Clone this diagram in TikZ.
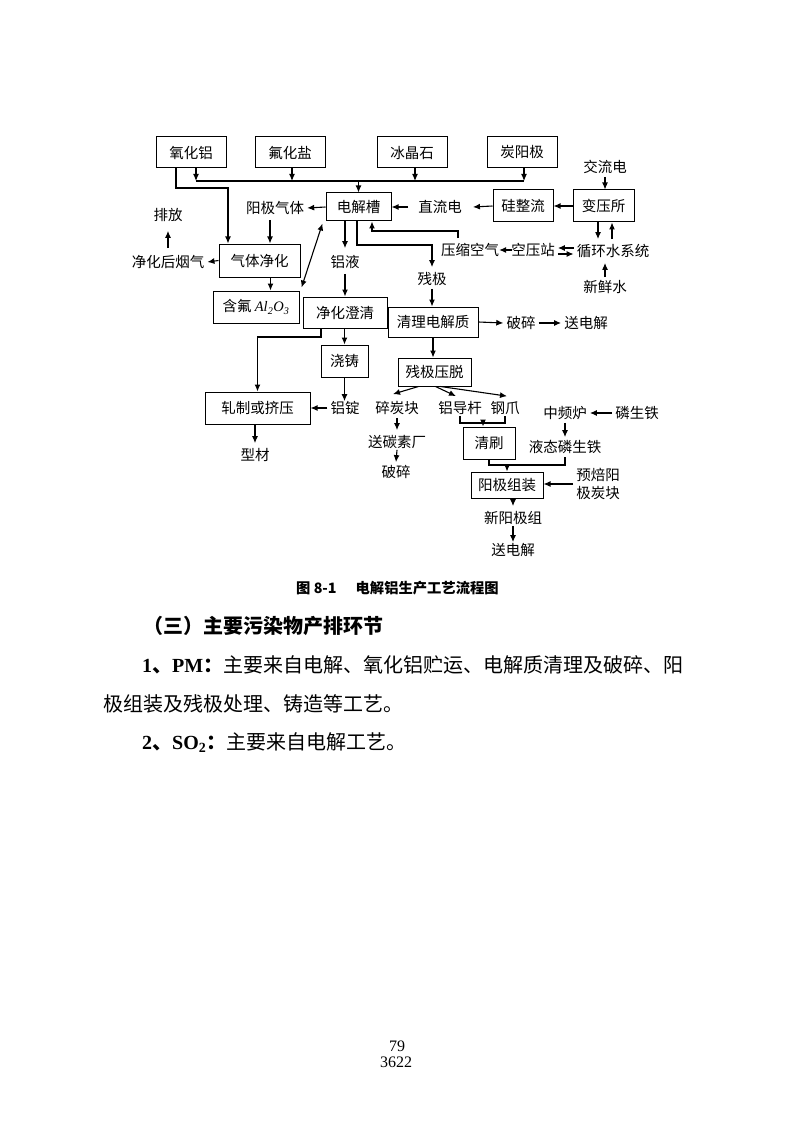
\documentclass[tikz,border=0pt]{standalone}
\usepackage{fontspec}
\setmainfont{Liberation Serif}
\newfontfamily\cjk{Noto Sans CJK SC}
\usetikzlibrary{positioning,calc,arrows.meta}
\newcommand{\dgfont}{\cjk\fontsize{14.5}{18}\selectfont}
\newcommand{\txfont}{\fontsize{20}{24}\selectfont}

\begin{document}
\begin{tikzpicture}[x=1pt,y=-1pt,>={Latex[length=7pt,width=6pt]},
    box/.style={draw,line width=1pt,inner sep=0pt,font=\dgfont},
    lab/.style={inner xsep=3pt,inner ysep=5pt,font=\dgfont},
    arr/.style={->,line width=1.1pt},
    ln/.style={line width=1.1pt}]
    \path[use as bounding box,fill=white] (0,0) rectangle (794,1123);

    \node[box,minimum width=70,minimum height=31] (yhl) at (191,152.5) {氧化铝};
    \node[box,minimum width=70,minimum height=31] (fhy) at (290,152.5) {氟化盐};
    \node[box,minimum width=70,minimum height=31] (bjs) at (412,152.5) {冰晶石};
    \node[box,minimum width=70,minimum height=31] (tyj) at (522,152.5) {炭阳极};
    \node[box,minimum width=65,minimum height=28] (djc) at (358.5,207) {电解槽};
    \node[box,minimum width=60,minimum height=32] (gzl) at (523,206) {硅整流};
    \node[box,minimum width=61,minimum height=32] (byss) at (603.5,206) {变压所};
    \node[box,minimum width=81,minimum height=33] (qtjh) at (259.5,260.5) {气体净化};
    \node[box,minimum width=86,minimum height=32] (hfyl) at (256,307) {含氟 {\rmfamily\itshape Al\textsubscript{2}O\textsubscript{3}}};
    \node[box,minimum width=84,minimum height=31] (jhcq) at (345,312.5) {净化澄清};
    \node[box,minimum width=90,minimum height=30] (qldjz) at (433,322) {清理电解质};
    \node[box,minimum width=47,minimum height=32] (jiaozhu) at (344.5,361) {浇铸};
    \node[box,minimum width=73,minimum height=28] (cjyt) at (434.5,372) {残极压脱};
    \node[box,minimum width=105,minimum height=32] (zzjy) at (257.5,408) {轧制或挤压};
    \node[box,minimum width=52,minimum height=32] (qs) at (489,443) {清刷};
    \node[box,minimum width=72,minimum height=26] (yjzz) at (507,485) {阳极组装};

    \node[lab] (jld) at (605,167) {交流电};
    \node[lab] (pf) at (168,215) {排放};
    \node[lab] (yjqt) at (275,208) {阳极气体};
    \node[lab] (zld) at (440,207) {直流电};
    \node[lab] (jhyq) at (168,262) {净化后烟气};
    \node[lab] (ly) at (345,262) {铝液};
    \node[lab] (yskq) at (470,250) {压缩空气};
    \node[lab] (kyz) at (533,250) {空压站};
    \node[lab] (xhs) at (613,251) {循环水系统};
    \node[lab] (xxs) at (605,287) {新鲜水};
    \node[lab] (cj) at (432,279) {残极};
    \node[lab] (ps) at (521,323) {破碎};
    \node[lab] (sdj) at (586,323) {送电解};
    \node[lab] (stk) at (397,408) {碎炭块};
    \node[lab] (ldg) at (460,408) {铝导杆};
    \node[lab] (gz) at (505,408) {钢爪};
    \node[lab] (ld) at (345,408) {铝锭};
    \node[lab] (xc) at (255,455) {型材};
    \node[lab] (stsc) at (397,442) {送碳素厂};
    \node[lab] (psb) at (396,472) {破碎};
    \node[lab] (zpl) at (565,413) {中频炉};
    \node[lab] (lst) at (637,413) {磷生铁};
    \node[lab] (ytlst) at (565,447) {液态磷生铁};
    \node[lab,align=center] (ybtk) at (598,484) {预焙阳\\极炭块};
    \node[lab] (xyjz) at (513,518) {新阳极组};
    \node[lab] (sdjb) at (513,550) {送电解};

    \coordinate (bus) at (0,181);
    \coordinate (ytrun) at (228,188);
    \coordinate (cjbar) at (0,245);
    \coordinate (kqturn) at (372,231);
    \coordinate (zzbar) at (0,337);
    \coordinate (qsbar) at (0,423);
    \coordinate (zzbar2) at (0,465);

    \draw[arr] ([xshift=5]yhl.south) -- ([xshift=5]yhl.south |- bus);
    \draw[arr] ([xshift=2]fhy.south) -- ([xshift=2]fhy.south |- bus);
    \draw[arr] ([xshift=3]bjs.south) -- ([xshift=3]bjs.south |- bus);
    \draw[arr] ([xshift=2]tyj.south) -- ([xshift=2]tyj.south |- bus);
    \draw[ln] ([xshift=5]yhl.south |- bus) -- ([xshift=2]tyj.south |- bus);
    \draw[arr] (djc.north |- bus) -- (djc.north);
    \draw[arr] ([xshift=-15]yhl.south) |- (ytrun) -- (ytrun |- qtjh.north);

    \draw[arr] (djc.west) -- (yjqt.east);
    \draw[arr] ([xshift=-5]yjqt.south) -- ([xshift=-5]yjqt.south |- qtjh.north);
    \draw[arr] (qtjh.west) -- (jhyq.east);
    \draw[arr] ([yshift=2]jhyq.north) -- ([yshift=-4]pf.south);
    \draw[arr] ([xshift=11]qtjh.south) -- ([xshift=11]qtjh.south |- hfyl.north);
    \draw[<->,line width=1.1pt] ([xshift=2,yshift=3]hfyl.north east) -- ([xshift=-3,yshift=-2]djc.south west);

    \draw[arr] ([yshift=2]jld.south) -- (jld.south |- byss.north);
    \draw[arr] (byss.west) -- (gzl.east);
    \draw[arr] (gzl.west) -- ([xshift=8]zld.east);
    \draw[arr] ([xshift=-7]zld.west) -- (djc.east);
    \draw[arr] ([xshift=-5.5]byss.south) -- ([xshift=-5.5]byss.south |- xhs.north);
    \draw[arr] ([xshift=8.5]byss.south |- xhs.north) -- ([xshift=8.5]byss.south);
    \draw[arr] ([yshift=-2]xxs.north) -- (xxs.north |- xhs.south);
    \draw[arr] ([yshift=3]xhs.west) -- ([yshift=3]xhs.west -| kyz.east);
    \draw[arr] ([yshift=-4]kyz.east) -- ([yshift=-4]kyz.east -| xhs.west);
    \draw[arr] ([xshift=4]kyz.west) -- ([xshift=-3]yskq.east);
    \draw[arr] ([xshift=-12]yskq.north) |- (kqturn) -- (kqturn |- djc.south);

    \draw[arr] (ly.north |- djc.south) -- ([yshift=2]ly.north);
    \draw[arr] (ly.south) -- (ly.south |- jhcq.north);
    \draw[arr] ([xshift=-1.5]djc.south) |- (cjbar -| cj.north) -- (cj.north);
    \draw[arr] ([yshift=2]cj.south) -- (cj.south |- qldjz.north);
    \draw[arr] (qldjz.east) -- (ps.west);
    \draw[arr] (ps.east) -- (sdj.west);
    \draw[arr] (qldjz.south) -- (qldjz.south |- cjyt.north);

    \draw[arr] ([xshift=-24]jhcq.south) |- (zzbar -| zzjy.north) -- (zzjy.north);
    \draw[arr] (jiaozhu.north |- jhcq.south) -- (jiaozhu.north);
    \draw[arr] (jiaozhu.south) -- ([yshift=-5]jiaozhu.south |- ld.north);
    \draw[arr] (ld.west) -- (zzjy.east);
    \draw[arr] (xc.north |- zzjy.south) -- (xc.north);

    \draw[arr] ([xshift=-16]cjyt.south) -- ([xshift=-4,yshift=2]stk.north);
    \draw[arr] ([xshift=1]cjyt.south) -- ([xshift=-4]ldg.north);
    \draw[arr] ([xshift=6]cjyt.south) -- ([xshift=2]gz.north);
    \draw[arr] ([yshift=2]stk.south) -- (stsc.north);
    \draw[arr] ([yshift=4]stsc.south) -- ([yshift=-2]psb.north);
    \draw[ln] ([yshift=4]ldg.south) |- (qsbar -| gz.south) -- ([yshift=4]gz.south);
    \draw[arr] ([xshift=-6]qs.north |- qsbar) -- ([xshift=-6]qs.north);

    \draw[arr] (lst.west) -- (zpl.east);
    \draw[arr] ([yshift=2]zpl.south) -- ([yshift=-2]ytlst.north);
    \draw[ln] (qs.south) |- (zzbar2 -| ytlst.south) -- ([yshift=2]ytlst.south);
    \draw[arr] (yjzz.north |- zzbar2) -- (yjzz.north);
    \draw[arr] (ybtk.west) -- (ybtk.west -| yjzz.east);
    \draw[arr] (xyjz.north |- yjzz.south) -- (xyjz.north);
    \draw[arr] ([yshift=4]xyjz.south) -- ([yshift=-4]sdjb.north);

    \node[anchor=west,inner sep=0pt,font=\cjk\bfseries\fontsize{14.3}{17}\selectfont] (cap) at (296,588) {图 8-1\hspace{19pt}电解铝生产工艺流程图};
    \node[anchor=west,inner sep=0pt,font=\cjk\bfseries\txfont] (sec) at (143,626) {（三）主要污染物产排环节};
    \node[anchor=west,inner sep=0pt,font=\txfont] (pm) at (142,665) {{\bfseries 1}{\cjk\bfseries 、}{\bfseries PM}{\cjk\bfseries ：}{\cjk 主要来自电解、氧化铝贮运、电解质清理及破碎、阳}};
    \node[anchor=west,inner sep=0pt,font=\txfont] (pmb) at (103,704) {{\cjk 极组装及残极处理、铸造等工艺。}};
    \node[anchor=west,inner sep=0pt,font=\txfont] (so) at (142,743) {{\bfseries 2}{\cjk\bfseries 、}{\bfseries SO\textsubscript{2}}{\cjk\bfseries ：}{\cjk 主要来自电解工艺。}};
    \node[font=\fontsize{16}{18}\selectfont] (pg) at (397,1046) {79};
    \node[font=\fontsize{16}{18}\selectfont] (pgb) at (396,1062) {3622};
\end{tikzpicture}
\end{document}
